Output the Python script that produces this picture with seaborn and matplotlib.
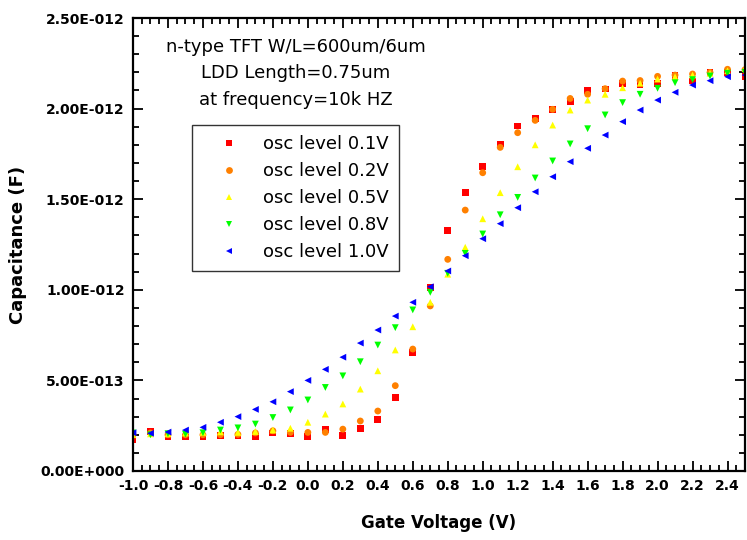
import matplotlib
matplotlib.use("Agg")
import matplotlib.pyplot as plt
from matplotlib.ticker import FixedLocator, MultipleLocator, FuncFormatter
import seaborn as sns
import pandas as pd

gate_voltage = [-1.0, -0.9, -0.8, -0.7, -0.6, -0.5, -0.4, -0.3, -0.2, -0.1,
                0.0, 0.1, 0.2, 0.3, 0.4, 0.5, 0.6, 0.7, 0.8, 0.9,
                1.0, 1.1, 1.2, 1.3, 1.4, 1.5, 1.6, 1.7, 1.8, 1.9,
                2.0, 2.1, 2.2, 2.3, 2.4, 2.5]

# capacitance in units of 1e-12 F
osc_01 = [0.175, 0.217, 0.188, 0.188, 0.188, 0.196, 0.193, 0.190, 0.210, 0.208,
          0.190, 0.230, 0.198, 0.233, 0.285, 0.407, 0.653, 1.014, 1.326, 1.536,
          1.679, 1.805, 1.904, 1.945, 1.996, 2.040, 2.099, 2.108, 2.140, 2.130,
          2.140, 2.182, 2.152, 2.198, 2.200, 2.176]
osc_02 = [0.200, 0.210, 0.200, 0.200, 0.200, 0.200, 0.202, 0.210, 0.222, 0.213,
          0.213, 0.213, 0.231, 0.276, 0.331, 0.471, 0.673, 0.911, 1.168, 1.440,
          1.646, 1.786, 1.867, 1.935, 1.996, 2.056, 2.079, 2.110, 2.152, 2.155,
          2.178, 2.185, 2.191, 2.200, 2.217, 2.215]
osc_05 = [0.200, 0.205, 0.205, 0.210, 0.213, 0.216, 0.213, 0.218, 0.226, 0.236,
          0.269, 0.314, 0.370, 0.452, 0.553, 0.668, 0.796, 0.931, 1.086, 1.235,
          1.392, 1.536, 1.679, 1.800, 1.909, 1.992, 2.047, 2.079, 2.115, 2.140,
          2.163, 2.176, 2.185, 2.195, 2.209, 2.222]
osc_08 = [0.210, 0.200, 0.206, 0.204, 0.211, 0.226, 0.238, 0.259, 0.295, 0.337,
          0.392, 0.461, 0.525, 0.603, 0.695, 0.791, 0.889, 0.986, 1.091, 1.201,
          1.308, 1.414, 1.510, 1.617, 1.711, 1.805, 1.889, 1.965, 2.033, 2.079,
          2.112, 2.143, 2.160, 2.180, 2.195, 2.200]
osc_10 = [0.211, 0.208, 0.215, 0.226, 0.241, 0.269, 0.300, 0.340, 0.382, 0.438,
          0.500, 0.561, 0.628, 0.706, 0.778, 0.855, 0.931, 1.017, 1.104, 1.188,
          1.282, 1.365, 1.453, 1.541, 1.624, 1.707, 1.781, 1.854, 1.928, 1.992,
          2.047, 2.090, 2.130, 2.154, 2.176, 2.185]

series_names = ["osc level 0.1V", "osc level 0.2V", "osc level 0.5V",
                "osc level 0.8V", "osc level 1.0V"]
series_values = [osc_01, osc_02, osc_05, osc_08, osc_10]
series_colors = ["#FF0000", "#FF8000", "#FFFF00", "#00FF00", "#0000FF"]
series_markers = ["s", "o", "^", "v", "<"]

x_ticks = [-1.0, -0.8, -0.6, -0.4, -0.2, 0.0, 0.2, 0.4, 0.6, 0.8,
           1.0, 1.2, 1.4, 1.6, 1.8, 2.0, 2.2, 2.4]
y_ticks = [0.0, 0.5e-12, 1.0e-12, 1.5e-12, 2.0e-12, 2.5e-12]

annotation_lines = ["n-type TFT W/L=600um/6um", "LDD Length=0.75um",
                    "at frequency=10k HZ"]

rows = []
for name, vals in zip(series_names, series_values):
    for v, c in zip(gate_voltage, vals):
        rows.append({"Gate Voltage (V)": v, "Capacitance (F)": c * 1e-12,
                     "series": name})
df = pd.DataFrame(rows)

sns.set_theme(style="ticks")
plt.rcParams["font.family"] = ["DejaVu Sans"]
plt.rcParams["text.color"] = "black"
plt.rcParams["axes.labelcolor"] = "black"
plt.rcParams["xtick.color"] = "black"
plt.rcParams["ytick.color"] = "black"

fig = plt.figure(figsize=(7.47, 5.40), dpi=100)
ax = fig.add_axes([133 / 747, 1 - 471 / 540, 612 / 747, 453 / 540])

sns.scatterplot(data=df, x="Gate Voltage (V)", y="Capacitance (F)",
                hue="series", style="series",
                palette=dict(zip(series_names, series_colors)),
                markers=dict(zip(series_names, series_markers)),
                hue_order=series_names, style_order=series_names,
                s=24, linewidth=0, ax=ax)

ax.set_xlim(-1.0, 2.5)
ax.set_ylim(0, 2.5e-12)
ax.xaxis.set_major_locator(FixedLocator(x_ticks))
ax.xaxis.set_minor_locator(MultipleLocator(0.05))
ax.yaxis.set_major_locator(FixedLocator(y_ticks))
ax.yaxis.set_minor_locator(MultipleLocator(0.1e-12))


def sci_fmt(v, pos):
    if abs(v) < 1e-20:
        return "0.00E+000"
    s = f"{v:.2E}"
    mant, exp = s.split("E")
    sign = exp[0]
    return f"{mant}E{sign}{int(exp[1:]):03d}"


ax.yaxis.set_major_formatter(FuncFormatter(sci_fmt))
ax.xaxis.set_major_formatter(FuncFormatter(lambda v, p: f"{v:.1f}" if abs(v) > 1e-9 else "0.0"))

ax.tick_params(which="both", direction="in", top=True, right=True,
               labeltop=False, labelright=False, color="black",
               labelcolor="black", width=1.3)
ax.tick_params(which="major", length=7, labelsize=10, pad=6)
ax.tick_params(which="minor", length=4)
for lab in ax.get_xticklabels() + ax.get_yticklabels():
    lab.set_fontweight("bold")
for sp in ax.spines.values():
    sp.set_visible(True)
    sp.set_linewidth(1.6)
    sp.set_color("black")

ax.set_xlabel("Gate Voltage (V)", fontsize=12, fontweight="bold", labelpad=15,
              color="black")
ax.set_ylabel("Capacitance (F)", fontsize=13, fontweight="bold", labelpad=10,
              color="black")

for txt, yy in zip(annotation_lines, [0.936, 0.879, 0.819]):
    ax.text(0.266, yy, txt, transform=ax.transAxes, ha="center", va="center",
            fontsize=13, color="black")

sns.move_legend(ax, "upper left", bbox_to_anchor=(0.096, 0.764), title=None,
                frameon=True, fancybox=False, fontsize=13, handlelength=3.0,
                handletextpad=0.4, labelspacing=0.5, borderpad=0.55,
                borderaxespad=0, markerscale=1.0, labelcolor="black")
leg = ax.get_legend()
leg.get_frame().set_edgecolor("black")
leg.get_frame().set_linewidth(1.0)

fig.savefig("out.png", dpi=100)
